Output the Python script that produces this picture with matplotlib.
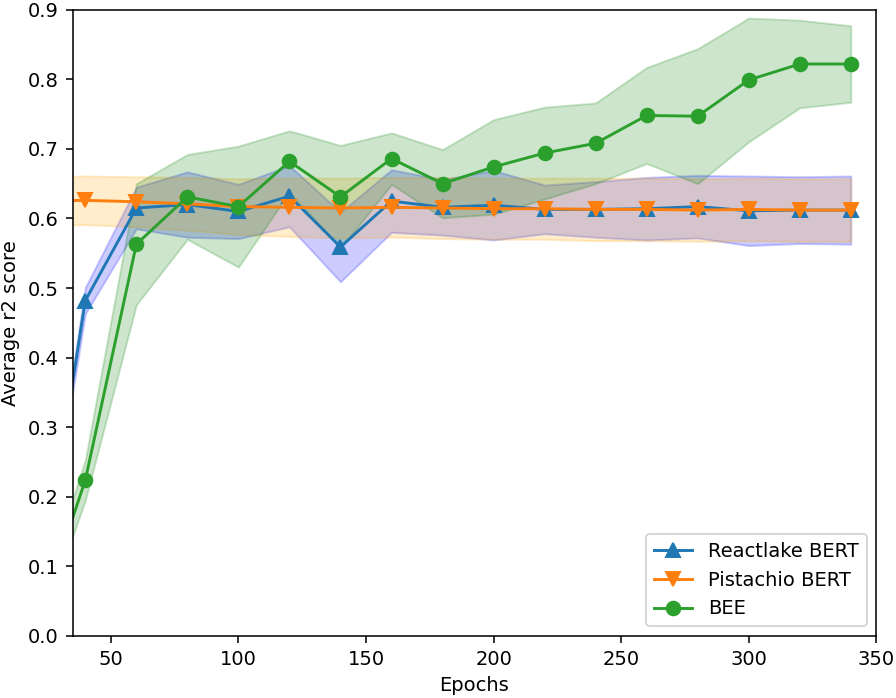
import numpy as np
import matplotlib
matplotlib.use("Agg")
import matplotlib.pyplot as plt

epochs = [20, 40, 60, 80, 100, 120, 140, 160, 180, 200, 220, 240, 260, 280, 300, 320, 340]

reactlake_mean = [0.010, 0.482, 0.615, 0.620, 0.610, 0.632, 0.559, 0.625, 0.616, 0.619,
                  0.613, 0.613, 0.614, 0.617, 0.611, 0.612, 0.612]
reactlake_std = [0.004, 0.019, 0.030, 0.047, 0.039, 0.044, 0.050, 0.045, 0.040, 0.050,
                 0.035, 0.040, 0.045, 0.045, 0.050, 0.048, 0.049]

pistachio_mean = [0.625, 0.626, 0.624, 0.621, 0.617, 0.616, 0.615, 0.616, 0.615, 0.614,
                  0.614, 0.613, 0.613, 0.612, 0.613, 0.612, 0.612]
pistachio_std = [0.035, 0.035, 0.036, 0.038, 0.040, 0.042, 0.043, 0.043, 0.044, 0.044,
                 0.044, 0.045, 0.045, 0.045, 0.045, 0.045, 0.045]

bee_mean = [0.005, 0.224, 0.563, 0.631, 0.617, 0.682, 0.631, 0.686, 0.650, 0.674,
            0.694, 0.708, 0.748, 0.747, 0.799, 0.822, 0.822]
bee_std = [0.020, 0.029, 0.087, 0.061, 0.087, 0.044, 0.074, 0.037, 0.049, 0.068,
           0.066, 0.058, 0.069, 0.097, 0.089, 0.063, 0.055]

series = [
    ("Reactlake BERT", reactlake_mean, reactlake_std, "C0", "^", "blue"),
    ("Pistachio BERT", pistachio_mean, pistachio_std, "C1", "v", "orange"),
    ("BEE", bee_mean, bee_std, "C2", "o", "green"),
]

fig = plt.figure(figsize=(6.4, 4.986), dpi=140)
ax = fig.add_axes([0.081, 0.089, 0.897, 0.897])

x = np.array(epochs)
for label, mean, std, color, marker, band in series:
    mean = np.array(mean)
    std = np.array(std)
    ax.plot(x, mean, color=color, marker=marker, markersize=7, label=label)
    ax.fill_between(x, mean - std, mean + std, color=band, alpha=0.2)

ax.set_xlim(35, 350)
ax.set_ylim(0, 0.9)
ax.set_xlabel("Epochs")
ax.set_ylabel("Average r2 score")
ax.legend(loc="lower right")

fig.savefig("out.png", dpi=140)
